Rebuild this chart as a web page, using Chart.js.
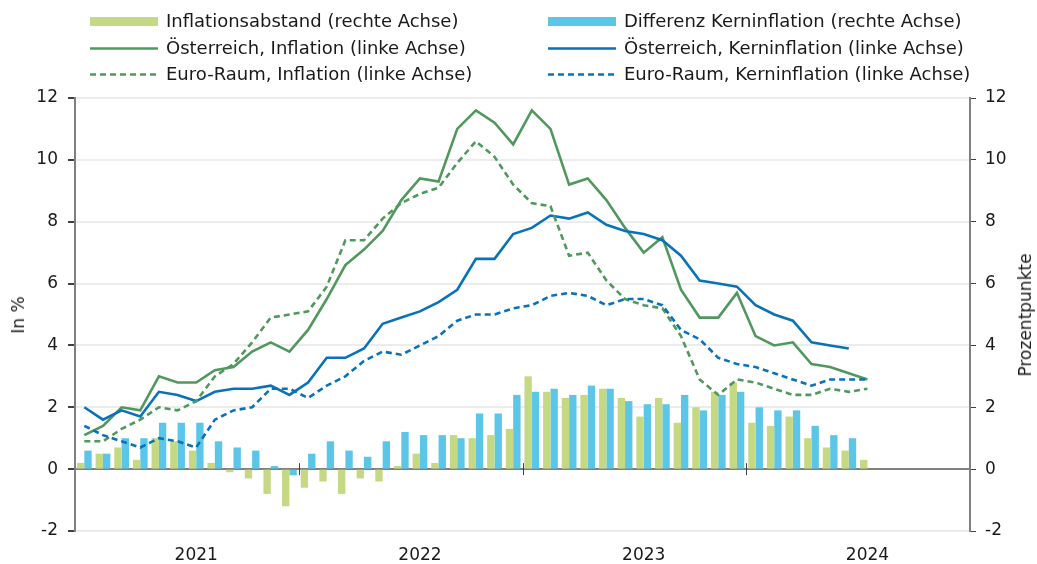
<!DOCTYPE html>
<html lang="de">
<head>
<meta charset="utf-8">
<title>Inflation Österreich vs. Euro-Raum</title>
<script src="https://cdn.jsdelivr.net/npm/chart.js@4.4.1/dist/chart.umd.min.js"></script>
<style>
  html, body { margin: 0; padding: 0; background: #fff; }
  #wrap { position: relative; width: 1037px; height: 564px; font-family: "DejaVu Sans", sans-serif; color: #1a1a1a; }
  #chart { position: absolute; left: 0; top: 0; }
  .leg { position: absolute; font-size: 18px; line-height: 20px; white-space: nowrap; }
  .leg svg { position: absolute; left: -76px; top: 0; }
  .ytitle { position: absolute; font-size: 17px; white-space: nowrap; transform: translate(-50%, -50%) rotate(-90deg); }
</style>
</head>
<body>
<div id="wrap">
  <canvas id="chart" width="1037" height="564"></canvas>
  <div class="ytitle" style="left:18px; top:315px;">In %</div>
  <div class="ytitle" style="left:1025px; top:315px;">Prozentpunkte</div>
  <div id="legend"></div>
</div>
<script>
// ---------------------------------------------------------------
// Data (monthly, Jan 2021 – Jul 2024), axis runs to Dec 2024
// ---------------------------------------------------------------
const YEARS = [2021, 2022, 2023, 2024];
const MONTHS = ["01", "02", "03", "04", "05", "06", "07", "08", "09", "10", "11", "12"];

// Österreich, Inflation (HVPI, % ggü. Vorjahr)
const atInflation = [
  1.1, 1.4, 2.0, 1.9, 3.0, 2.8, 2.8, 3.2, 3.3, 3.8, 4.1, 3.8,
  4.5, 5.5, 6.6, 7.1, 7.7, 8.7, 9.4, 9.3, 11.0, 11.6, 11.2, 10.5,
  11.6, 11.0, 9.2, 9.4, 8.7, 7.8, 7.0, 7.5, 5.8, 4.9, 4.9, 5.7,
  4.3, 4.0, 4.1, 3.4, 3.3, 3.1, 2.9,
];
// Euro-Raum, Inflation
const euInflation = [
  0.9, 0.9, 1.3, 1.6, 2.0, 1.9, 2.2, 3.0, 3.4, 4.1, 4.9, 5.0,
  5.1, 5.9, 7.4, 7.4, 8.1, 8.6, 8.9, 9.1, 9.9, 10.6, 10.1, 9.2,
  8.6, 8.5, 6.9, 7.0, 6.1, 5.5, 5.3, 5.2, 4.3, 2.9, 2.4, 2.9,
  2.8, 2.6, 2.4, 2.4, 2.6, 2.5, 2.6,
];
// Österreich, Kerninflation
const atCore = [
  2.0, 1.6, 1.9, 1.7, 2.5, 2.4, 2.2, 2.5, 2.6, 2.6, 2.7, 2.4,
  2.8, 3.6, 3.6, 3.9, 4.7, 4.9, 5.1, 5.4, 5.8, 6.8, 6.8, 7.6,
  7.8, 8.2, 8.1, 8.3, 7.9, 7.7, 7.6, 7.4, 6.9, 6.1, 6.0, 5.9,
  5.3, 5.0, 4.8, 4.1, 4.0, 3.9,
];
// Euro-Raum, Kerninflation
const euCore = [
  1.4, 1.1, 0.9, 0.7, 1.0, 0.9, 0.7, 1.6, 1.9, 2.0, 2.6, 2.6,
  2.3, 2.7, 3.0, 3.5, 3.8, 3.7, 4.0, 4.3, 4.8, 5.0, 5.0, 5.2,
  5.3, 5.6, 5.7, 5.6, 5.3, 5.5, 5.5, 5.3, 4.5, 4.2, 3.6, 3.4,
  3.3, 3.1, 2.9, 2.7, 2.9, 2.9, 2.9,
];
// Inflationsabstand (Prozentpunkte)
const gapInflation = [
  0.2, 0.5, 0.7, 0.3, 1.0, 0.9, 0.6, 0.2, -0.1, -0.3, -0.8, -1.2,
  -0.6, -0.4, -0.8, -0.3, -0.4, 0.1, 0.5, 0.2, 1.1, 1.0, 1.1, 1.3,
  3.0, 2.5, 2.3, 2.4, 2.6, 2.3, 1.7, 2.3, 1.5, 2.0, 2.5, 2.8,
  1.5, 1.4, 1.7, 1.0, 0.7, 0.6, 0.3,
];
// Differenz Kerninflation (Prozentpunkte)
const gapCore = [
  0.6, 0.5, 1.0, 1.0, 1.5, 1.5, 1.5, 0.9, 0.7, 0.6, 0.1, -0.2,
  0.5, 0.9, 0.6, 0.4, 0.9, 1.2, 1.1, 1.1, 1.0, 1.8, 1.8, 2.4,
  2.5, 2.6, 2.4, 2.7, 2.6, 2.2, 2.1, 2.1, 2.4, 1.9, 2.4, 2.5,
  2.0, 1.9, 1.9, 1.4, 1.1, 1.0,
];

const Y_MIN = -2, Y_MAX = 12, Y_STEP = 2;

const COLORS = {
  barGreen: "#c5d884",
  barBlue: "#5cc6e8",
  lineGreen: "#50985d",
  lineBlue: "#0a72b6",
  grid: "#ececec",
  axis: "#808080",
  text: "#1a1a1a",
};

const labels = [];
YEARS.forEach((y) => MONTHS.forEach((m) => labels.push(`${y}-${m}`)));

// ---------------------------------------------------------------
// HTML legend (two columns, three rows)
// ---------------------------------------------------------------
const LEGEND = [
  { text: "Inflationsabstand (rechte Achse)", type: "bar", color: COLORS.barGreen, col: 0, row: 0 },
  { text: "Österreich, Inflation (linke Achse)", type: "line", color: COLORS.lineGreen, col: 0, row: 1 },
  { text: "Euro-Raum, Inflation (linke Achse)", type: "dash", color: COLORS.lineGreen, col: 0, row: 2 },
  { text: "Differenz Kerninflation (rechte Achse)", type: "bar", color: COLORS.barBlue, col: 1, row: 0 },
  { text: "Österreich, Kerninflation (linke Achse)", type: "line", color: COLORS.lineBlue, col: 1, row: 1 },
  { text: "Euro-Raum, Kerninflation (linke Achse)", type: "dash", color: COLORS.lineBlue, col: 1, row: 2 },
];

function swatch(item) {
  if (item.type === "bar") {
    return `<svg width="68" height="20"><rect x="0" y="6" width="68" height="9" fill="${item.color}"/></svg>`;
  }
  const dash = item.type === "dash" ? 'stroke-dasharray="6 4"' : "";
  return `<svg width="68" height="20"><line x1="0" y1="10.5" x2="68" y2="10.5" stroke="${item.color}" stroke-width="2.6" ${dash}/></svg>`;
}

document.getElementById("legend").innerHTML = LEGEND.map((item) => {
  const left = item.col === 0 ? 166 : 624;
  const top = 11 + item.row * 26.6;
  return `<div class="leg" style="left:${left}px; top:${top}px;">${swatch(item)}${item.text}</div>`;
}).join("");

// ---------------------------------------------------------------
// Year tick marks on the zero line
// ---------------------------------------------------------------
const yearTicks = {
  id: "yearTicks",
  afterDatasetsDraw(chart) {
    const xs = chart.scales.x;
    const y0 = chart.scales.y.getPixelForValue(0);
    const ctx = chart.ctx;
    ctx.save();
    ctx.strokeStyle = "#404040";
    ctx.lineWidth = 1;
    for (let k = 1; k < YEARS.length; k++) {
      const x = Math.round((xs.getPixelForValue(12 * k - 1) + xs.getPixelForValue(12 * k)) / 2) + 0.5;
      ctx.beginPath();
      ctx.moveTo(x, y0 - 6);
      ctx.lineTo(x, y0 + 6);
      ctx.stroke();
    }
    ctx.restore();
  },
};

// ---------------------------------------------------------------
// Chart
// ---------------------------------------------------------------
const font = { family: "DejaVu Sans", size: 17 };

const lineDs = (label, data, color, dashed) => ({
  type: "line",
  label,
  data,
  yAxisID: "y",
  borderColor: color,
  backgroundColor: color,
  borderWidth: 2.6,
  borderDash: dashed ? [6, 4] : [],
  pointRadius: 0,
  tension: 0,
  order: 1,
});

new Chart(document.getElementById("chart"), {
  data: {
    labels,
    datasets: [
      {
        type: "bar",
        label: "Inflationsabstand (rechte Achse)",
        data: gapInflation,
        yAxisID: "y2",
        backgroundColor: COLORS.barGreen,
        categoryPercentage: 0.79,
        barPercentage: 1,
        order: 2,
      },
      {
        type: "bar",
        label: "Differenz Kerninflation (rechte Achse)",
        data: gapCore,
        yAxisID: "y2",
        backgroundColor: COLORS.barBlue,
        categoryPercentage: 0.79,
        barPercentage: 1,
        order: 2,
      },
      lineDs("Euro-Raum, Kerninflation (linke Achse)", euCore, COLORS.lineBlue, true),
      lineDs("Euro-Raum, Inflation (linke Achse)", euInflation, COLORS.lineGreen, true),
      lineDs("Österreich, Kerninflation (linke Achse)", atCore, COLORS.lineBlue, false),
      lineDs("Österreich, Inflation (linke Achse)", atInflation, COLORS.lineGreen, false),
    ],
  },
  options: {
    responsive: false,
    animation: false,
    layout: { padding: { top: 98, left: 0, right: 0, bottom: 0 } },
    plugins: { legend: { display: false }, tooltip: { enabled: false } },
    scales: {
      x: {
        offset: true,
        grid: { display: false, drawTicks: false },
        border: { display: false },
        ticks: {
          autoSkip: false,
          maxRotation: 0,
          padding: 14,
          color: COLORS.text,
          font,
          callback: (v, i) => (i % 12 === 6 ? labels[i].slice(0, 4) : ""),
        },
        afterFit: (s) => { s.height = 33; },
      },
      y: {
        position: "left",
        min: Y_MIN,
        max: Y_MAX,
        ticks: { stepSize: Y_STEP, padding: 10, color: COLORS.text, font },
        grid: {
          color: (c) => (c.tick && c.tick.value === 0 ? COLORS.axis : COLORS.grid),
          lineWidth: (c) => (c.tick && c.tick.value === 0 ? 2 : 2),
          tickColor: "#404040",
          tickLength: 7,
        },
        border: { display: true, color: COLORS.axis, width: 2 },
        afterFit: (s) => { s.width = 75; },
      },
      y2: {
        position: "right",
        min: Y_MIN,
        max: Y_MAX,
        ticks: { stepSize: Y_STEP, padding: 9, color: COLORS.text, font },
        grid: { drawOnChartArea: false, tickColor: "#404040", tickLength: 6 },
        border: { display: true, color: COLORS.axis, width: 2 },
        afterFit: (s) => { s.width = 67; },
      },
    },
  },
  plugins: [yearTicks],
});
</script>
</body>
</html>
